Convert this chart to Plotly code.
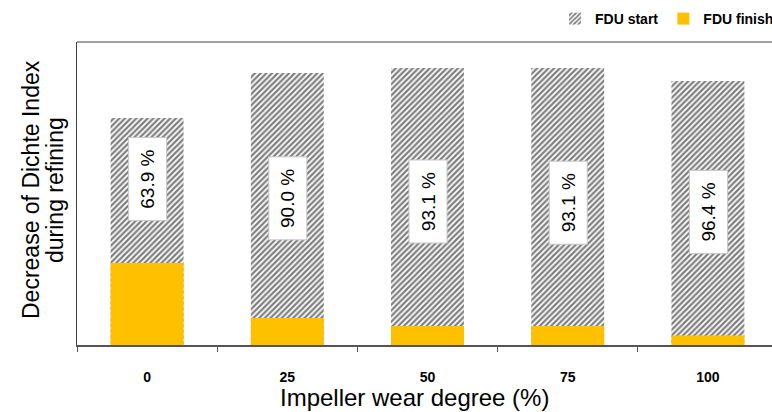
import plotly.graph_objects as go

categories = ["0", "25", "50", "75", "100"]
fdu_start = [227, 272, 277, 277, 264]
fdu_finish = [82, 27, 19, 19, 9.5]
decrease_labels = ["63.9 %", "90.0 %", "93.1 %", "93.1 %", "96.4 %"]
label_y = [166, 147, 143, 142, 133]

FONT = "Liberation Sans, Arial, sans-serif"
PLOT_W = 695
PLOT_H = 303

fig = go.Figure()
fig.add_trace(go.Bar(
    x=categories, y=fdu_start, name="FDU start", width=0.52,
    marker=dict(color="white", line=dict(width=0),
                pattern=dict(shape="/", fgcolor="black", bgcolor="white",
                             size=4, solidity=0.55)),
))
fig.add_trace(go.Bar(
    x=categories, y=fdu_finish, name="FDU finish", width=0.52,
    marker=dict(color="#FFC000", line=dict(width=0)),
))

annotations = []
for i, (t, yy) in enumerate(zip(decrease_labels, label_y)):
    annotations.append(dict(
        x=i, y=yy, xref="x", yref="y", text=t, showarrow=False,
        textangle=-90, font=dict(family=FONT, size=19, color="black"),
        bgcolor="white", bordercolor="#c8c8c8", borderwidth=1,
        borderpad=6, width=70, height=25,
    ))

annotations.append(dict(
    x=-46/PLOT_W, y=(345-190)/PLOT_H, xref="paper", yref="paper",
    text="Decrease of Dichte Index", showarrow=False, textangle=-90,
    xanchor="center", yanchor="middle",
    font=dict(family=FONT, size=23, color="black"),
))
annotations.append(dict(
    x=-22/PLOT_W, y=(345-190)/PLOT_H, xref="paper", yref="paper",
    text="during refining", showarrow=False, textangle=-90,
    xanchor="center", yanchor="middle",
    font=dict(family=FONT, size=23, color="black"),
))
annotations.append(dict(
    x=(414-77)/PLOT_W, y=(345-397)/PLOT_H, xref="paper", yref="paper",
    text="Impeller wear degree (%)", showarrow=False,
    xanchor="center", yanchor="middle",
    font=dict(family=FONT, size=24, color="black"),
))

fig.update_layout(
    width=772, height=412,
    margin=dict(l=77, r=0, t=42, b=67, autoexpand=False),
    barmode="overlay",
    plot_bgcolor="white", paper_bgcolor="white",
    font=dict(family=FONT, color="black"),
    legend=dict(orientation="h", x=1 + 7/PLOT_W, xanchor="right", y=1 + 23/PLOT_H,
                yanchor="middle", font=dict(family=FONT, size=14, weight="bold"),
                itemwidth=30, bgcolor="rgba(0,0,0,0)", borderwidth=0),
    annotations=annotations,
    shapes=[dict(type="line", xref="paper", yref="paper", x0=0, x1=1, y0=1, y1=1,
                 line=dict(color="#404040", width=1))],
)
fig.update_xaxes(
    type="category", range=[-0.5, 4.457], tickson="boundaries",
    ticks="outside", ticklen=5, tickcolor="#555", tickwidth=1,
    showline=True, linecolor="#555", linewidth=1.5, showgrid=False,
    automargin=False, ticklabelstandoff=18,
    tickfont=dict(family=FONT, size=14, weight="bold", color="black"),
)
fig.update_yaxes(
    range=[0, 303], showticklabels=False, ticks="", showgrid=False,
    automargin=False,
    zeroline=False, showline=True, linecolor="#404040", linewidth=1,
)

fig.write_html(
    "out.html",
    config={"displayModeBar": False},
    post_script="document.body.style.margin='0';document.body.style.overflow='hidden';",
)
